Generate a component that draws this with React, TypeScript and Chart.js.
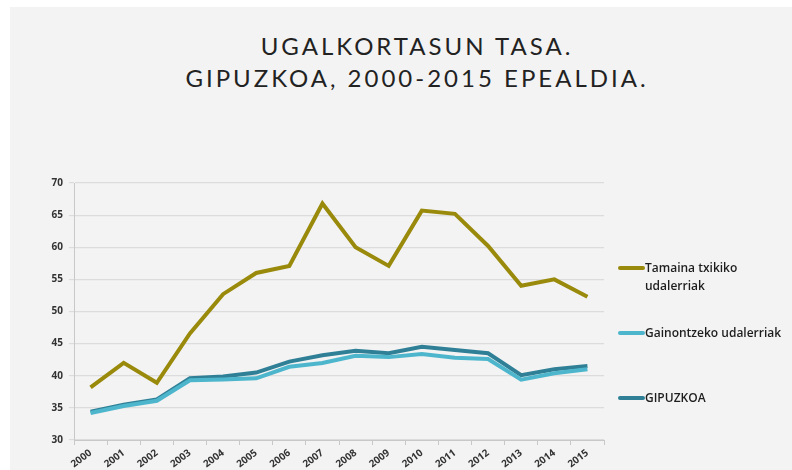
import React, { useEffect, useRef } from "react";
import { Chart, registerables } from "chart.js";

Chart.register(...registerables);

const years = ["2000","2001","2002","2003","2004","2005","2006","2007","2008","2009","2010","2011","2012","2013","2014","2015"];
const small = [38.2, 42.0, 38.9, 46.6, 52.7, 56.0, 57.1, 66.8, 60.0, 57.1, 65.7, 65.2, 60.2, 54.0, 55.0, 52.3];
const others = [34.2, 35.3, 36.1, 39.3, 39.4, 39.6, 41.4, 42.0, 43.1, 42.9, 43.4, 42.8, 42.6, 39.4, 40.4, 41.0];
const gipuzkoa = [34.4, 35.5, 36.3, 39.6, 39.9, 40.5, 42.2, 43.2, 43.9, 43.5, 44.5, 44.0, 43.5, 40.1, 41.0, 41.5];
const seriesNames = ["Tamaina txikiko udalerriak", "Gainontzeko udalerriak", "GIPUZKOA"];
const colors = ["#9a8a0c", "#4db6cc", "#2f8097"];
const titleLines = ["UGALKORTASUN TASA.", "GIPUZKOA, 2000-2015 EPEALDIA."];

export default function App() {
  const ref = useRef<HTMLCanvasElement | null>(null);
  useEffect(() => {
    if (!ref.current) return;
    const chart = new Chart(ref.current, {
      type: "line",
      data: {
        labels: years,
        datasets: [small, others, gipuzkoa].map((d, i) => ({
          label: seriesNames[i],
          data: d,
          borderColor: colors[i],
          backgroundColor: colors[i],
          borderWidth: 4,
          pointRadius: 0,
          tension: 0,
        })),
      },
      options: {
        responsive: false,
        animation: false,
        layout: { padding: { top: 183, left: 0, right: 188, bottom: 0 } },
        plugins: { legend: { display: false }, tooltip: { enabled: false } },
        scales: {
          x: {
            offset: true,
            grid: { drawOnChartArea: false, drawTicks: true, tickLength: 5, offset: true, color: "#c8c8c8" },
            border: { display: true, color: "#c8c8c8" },
            ticks: {
              minRotation: 37,
              maxRotation: 37,
              color: "#333333",
              font: { family: "Open Sans", size: 10, weight: "bold" },
              padding: 2,
            },
            afterFit: (s: any) => { s.height = 30; },
          },
          y: {
            min: 30,
            max: 70,
            ticks: { stepSize: 5, color: "#333333", font: { family: "Open Sans", size: 10, weight: "bold" }, padding: 6 },
            grid: { color: "#dcdcdc", tickLength: 5, lineWidth: 1.2 },
            border: { display: true, color: "#c8c8c8" },
            afterFit: (s: any) => { s.width = 74; },
          },
        },
      },
    });
    return () => chart.destroy();
  }, []);

  const legendTop = [259, 324, 389];
  return (
    <div style={{ position: "fixed", left: 0, top: 0, width: 792, height: 470, background: "#ffffff", overflow: "hidden" }}>
      <div style={{ position: "absolute", left: 10, top: 7, width: 782, height: 463, background: "#f3f3f3" }} />
      <div style={{ position: "absolute", left: 0, top: 30, width: 834, textAlign: "center", fontFamily: "Lato, 'Open Sans', sans-serif", fontSize: 24, letterSpacing: 3, color: "#222", lineHeight: "32px" }}>
        {titleLines.map((t, i) => (<div key={i}>{t}</div>))}
      </div>
      <canvas ref={ref} width={792} height={470} style={{ position: "absolute", left: 0, top: 0 }} />
      {seriesNames.map((n, i) => (
        <div key={i} style={{ position: "absolute", left: 618, top: legendTop[i], display: "flex", alignItems: "flex-start", fontFamily: "'Open Sans', sans-serif", fontSize: 12, fontWeight: 600, color: "#1e1e1e", lineHeight: "18px" }}>
          <div style={{ width: 27, height: 4, background: colors[i], marginTop: 7, borderRadius: 2 }} />
          <div style={{ width: i === 0 ? 100 : 170 }}>{n}</div>
        </div>
      ))}
    </div>
  );
}
